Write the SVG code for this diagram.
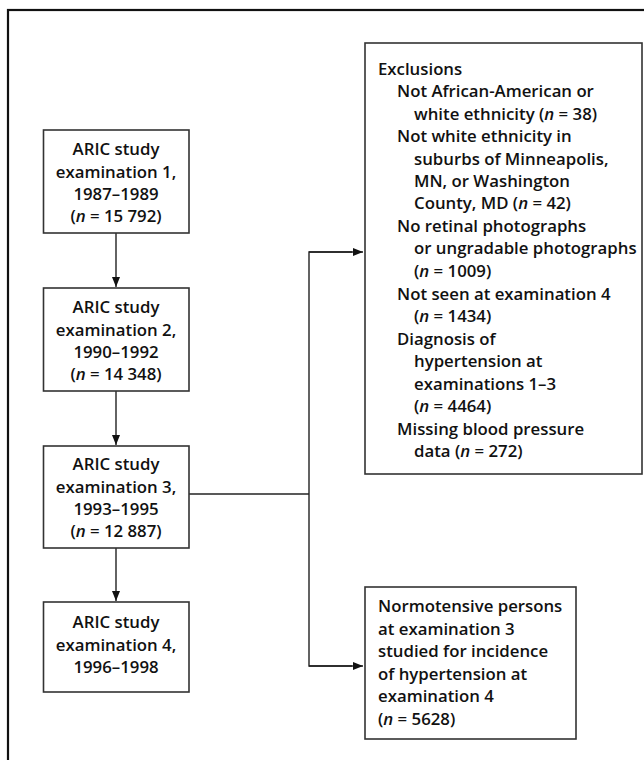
<svg xmlns="http://www.w3.org/2000/svg" width="644" height="760" viewBox="0 0 644 760">
<defs>
<style>
.box{fill:#fff;stroke:#333;stroke-width:1.6}
.frame{fill:none;stroke:#111;stroke-width:2.2}
.t{font-family:"Open Sans","Noto Sans","Liberation Sans",sans-serif;font-size:16.8px;font-weight:600;fill:#111}
.c{text-anchor:middle}
.i{font-style:italic}
.ln{fill:none;stroke:#222;stroke-width:1.4}
</style>
<marker id="ah" viewBox="0 0 10 10" refX="10" refY="5" markerWidth="10" markerHeight="10" markerUnits="userSpaceOnUse" orient="auto">
<path d="M0,1 L10,5 L0,9 Z" fill="#111"/>
</marker>
</defs>
<rect width="644" height="760" fill="#fff"/>
<rect class="frame" x="8" y="10" width="660" height="780"/>

<g id="connectors">
<line class="ln" x1="116" y1="233" x2="116" y2="287" marker-end="url(#ah)"/>
<line class="ln" x1="116" y1="391" x2="116" y2="445" marker-end="url(#ah)"/>
<line class="ln" x1="116" y1="548" x2="116" y2="601" marker-end="url(#ah)"/>
<polyline class="ln" points="189,494 309,494"/>
<polyline class="ln" points="352,252 309,252 309,666 352,666"/>
<line class="ln" x1="309" y1="252" x2="363" y2="252" marker-end="url(#ah)"/>
<line class="ln" x1="309" y1="666" x2="363" y2="666" marker-end="url(#ah)"/>
</g>

<g id="exam1">
<rect class="box" x="43.5" y="130" width="145.5" height="103"/>
<text class="t c" x="116" y="155">ARIC study</text>
<text class="t c" x="116" y="177.5">examination 1,</text>
<text class="t c" x="116" y="200">1987–1989</text>
<text class="t c" x="116" y="222">(<tspan class="i">n</tspan> = 15 792)</text>
</g>

<g id="exam2">
<rect class="box" x="43.5" y="288" width="145.5" height="103"/>
<text class="t c" x="116" y="313">ARIC study</text>
<text class="t c" x="116" y="335.5">examination 2,</text>
<text class="t c" x="116" y="358">1990–1992</text>
<text class="t c" x="116" y="380">(<tspan class="i">n</tspan> = 14 348)</text>
</g>

<g id="exam3">
<rect class="box" x="43.5" y="446" width="145.5" height="102"/>
<text class="t c" x="116" y="470">ARIC study</text>
<text class="t c" x="116" y="492.5">examination 3,</text>
<text class="t c" x="116" y="515">1993–1995</text>
<text class="t c" x="116" y="537">(<tspan class="i">n</tspan> = 12 887)</text>
</g>

<g id="exam4">
<rect class="box" x="43.5" y="602" width="145.5" height="90"/>
<text class="t c" x="116" y="628">ARIC study</text>
<text class="t c" x="116" y="650.5">examination 4,</text>
<text class="t c" x="116" y="673">1996–1998</text>
</g>

<g id="exclusions">
<rect class="box" x="365" y="43" width="277" height="431"/>
<text class="t" x="378" y="75">Exclusions</text>
<text class="t" x="397" y="97.4">Not African-American or</text>
<text class="t" x="414" y="119.8">white ethnicity (<tspan class="i">n</tspan> = 38)</text>
<text class="t" x="397" y="142.2">Not white ethnicity in</text>
<text class="t" x="414" y="164.6">suburbs of Minneapolis,</text>
<text class="t" x="414" y="187">MN, or Washington</text>
<text class="t" x="414" y="209.4">County, MD (<tspan class="i">n</tspan> = 42)</text>
<text class="t" x="397" y="231.8">No retinal photographs</text>
<text class="t" x="414" y="254.2">or ungradable photographs</text>
<text class="t" x="414" y="276.6">(<tspan class="i">n</tspan> = 1009)</text>
<text class="t" x="397" y="300">Not seen at examination 4</text>
<text class="t" x="414" y="322.4">(<tspan class="i">n</tspan> = 1434)</text>
<text class="t" x="397" y="345">Diagnosis of</text>
<text class="t" x="414" y="367.4">hypertension at</text>
<text class="t" x="414" y="389.8">examinations 1–3</text>
<text class="t" x="414" y="412.2">(<tspan class="i">n</tspan> = 4464)</text>
<text class="t" x="397" y="435">Missing blood pressure</text>
<text class="t" x="414" y="457.4">data (<tspan class="i">n</tspan> = 272)</text>
</g>

<g id="normotensive">
<rect class="box" x="365" y="587" width="211" height="152"/>
<text class="t" x="378" y="612">Normotensive persons</text>
<text class="t" x="378" y="634.5">at examination 3</text>
<text class="t" x="378" y="657">studied for incidence</text>
<text class="t" x="378" y="679.5">of hypertension at</text>
<text class="t" x="378" y="702">examination 4</text>
<text class="t" x="378" y="724.5">(<tspan class="i">n</tspan> = 5628)</text>
</g>
</svg>
